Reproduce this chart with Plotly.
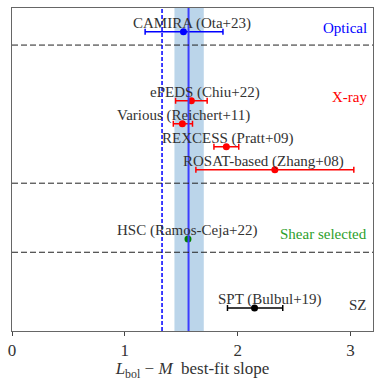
import plotly.graph_objects as go

# measurements: best-fit slope with asymmetric errors
names = ["CAMIRA (Ota+23)", "ePEDS (Chiu+22)", "Various (Reichert+11)",
         "REXCESS (Pratt+09)", "ROSAT-based (Zhang+08)",
         "HSC (Ramos-Ceja+22)", "SPT (Bulbul+19)"]
slope = [1.52, 1.59, 1.51, 1.90, 2.33, 1.56, 2.15]
err_lo = [0.34, 0.14, 0.08, 0.11, 0.70, 0.0, 0.24]
err_hi = [0.35, 0.14, 0.09, 0.11, 0.70, 0.0, 0.25]
ypos = [13, 10, 9, 8, 7, 4, 1]
colors = ["blue", "red", "red", "red", "red", "green", "black"]
label_x = [1.595, 1.71, 1.52, 1.91, 2.23, 1.555, 2.285]

groups = ["Optical", "X-ray", "Shear selected", "SZ"]
group_y = [13.17, 10.15, 4.2, 1.13]
group_colors = ["blue", "red", "#2ca02c", "#333333"]
separators = [12.42, 6.42, 3.42]

fit_slope = 1.565
fit_lo, fit_hi = 1.44, 1.70
ref_slope = 1.33

SERIF = "Liberation Serif"

fig = go.Figure()

fig.add_vrect(x0=fit_lo, x1=fit_hi, fillcolor="rgb(187,213,234)", line_width=0, layer="below")
fig.add_vline(x=fit_slope, line=dict(color="rgb(60,60,255)", width=2))
fig.add_vline(x=ref_slope, line=dict(color="blue", width=1.5, dash="4px,2px"))
for s in separators:
    fig.add_hline(y=s, line=dict(color="#222222", width=1, dash="6px,3px"))

for i in range(len(names)):
    fig.add_trace(go.Scatter(
        x=[slope[i]], y=[ypos[i]], mode="markers",
        marker=dict(color=colors[i], size=7),
        error_x=dict(type="data", symmetric=False, array=[err_hi[i]],
                     arrayminus=[err_lo[i]], color=colors[i],
                     thickness=1.5, width=3, visible=err_hi[i] > 0),
        showlegend=False))
    fig.add_annotation(x=label_x[i], y=ypos[i], text=names[i], showarrow=False,
                       yshift=8, font=dict(family=SERIF, size=15, color="#333333"))

for g, gy, gc in zip(groups, group_y, group_colors):
    fig.add_annotation(x=1, xref="paper", y=gy, text=g, showarrow=False,
                       xanchor="right", xshift=-4,
                       font=dict(family=SERIF, size=15, color=gc))

fig.update_xaxes(range=[0, 3.2], tickvals=[0, 1, 2, 3], ticks="outside",
                 ticklen=4, tickcolor="#444", showgrid=False, zeroline=False,
                 showline=True, linecolor="#666", mirror=True,
                 tickfont=dict(family=SERIF, size=17, color="#333"),
                 title=dict(text="<i>L</i><sub>bol</sub> − <i>M</i>  best-fit slope",
                            font=dict(family=SERIF, size=17, color="#333"),
                            standoff=2))
fig.update_yaxes(range=[0, 14.03], showticklabels=False, ticks="",
                 showgrid=False, zeroline=False, showline=True,
                 linecolor="#666", mirror=True)
fig.update_layout(width=381, height=381, plot_bgcolor="white", paper_bgcolor="white",
                  margin=dict(l=12, r=8, t=7, b=49))
fig.write_html("out.html", config={"displayModeBar": False},
               post_script="document.body.style.margin='0px';")
